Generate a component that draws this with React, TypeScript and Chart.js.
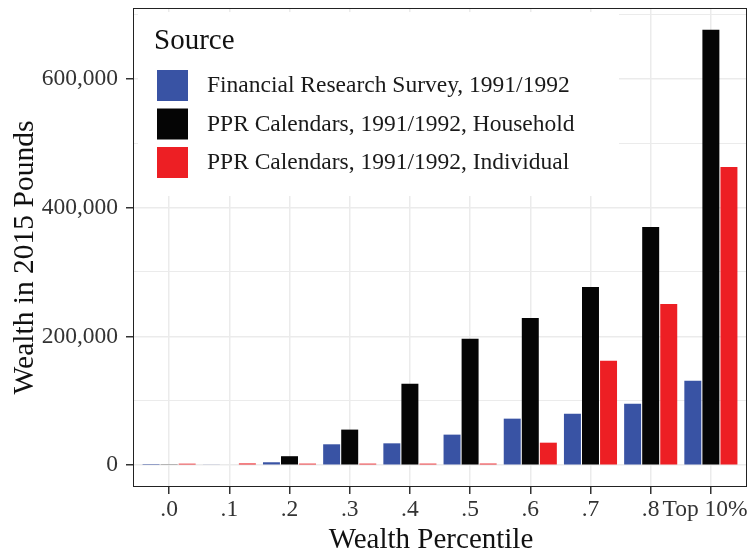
import React, { useEffect, useRef } from 'react';
import { Chart, registerables } from 'chart.js';

Chart.register(...registerables);

const categories = ['.0', '.1', '.2', '.3', '.4', '.5', '.6', '.7', '.8', 'Top 10%'];
const frsValues = [400, 1000, 4600, 32500, 34000, 47500, 72300, 80000, 95500, 131000];
const householdValues = [800, 0, 14000, 55300, 126500, 196200, 228700, 276700, 369700, 676000];
const individualValues = [2400, 2800, 2500, 2500, 2500, 2600, 35000, 162000, 250400, 463000];
const yTickValues = [0, 100000, 200000, 300000, 400000, 500000, 600000, 700000];
const yLabelValues = [0, 200000, 400000, 600000];
const seriesNames = [
  'Financial Research Survey, 1991/1992',
  'PPR Calendars, 1991/1992, Household',
  'PPR Calendars, 1991/1992, Individual',
];
const seriesColors = ['#3953a4', '#050505', '#ed1f24'];
const legendTitle = 'Source';
const xTitle = 'Wealth Percentile';
const yTitle = 'Wealth in 2015 Pounds';

const FONT = "'Liberation Serif', 'Times New Roman', serif";

const decorations = {
  id: 'decorations',
  afterDatasetsDraw(chart: any) {
    const { ctx, chartArea } = chart;
    const l = chartArea.left;
    const t = chartArea.top;
    ctx.save();
    ctx.fillStyle = '#ffffff';
    ctx.fillRect(l + 5, t + 4, 481, 184);
    ctx.fillStyle = '#111';
    ctx.font = `29px ${FONT}`;
    ctx.textBaseline = 'alphabetic';
    ctx.textAlign = 'left';
    ctx.fillText(legendTitle, l + 21, t + 41);
    chart.data.datasets.forEach((ds: any, i: number) => {
      const by = t + 62 + i * 38.5;
      ctx.fillStyle = ds.backgroundColor;
      ctx.fillRect(l + 24, by, 31, 31);
      ctx.fillStyle = '#1a1a1a';
      ctx.font = `23.5px ${FONT}`;
      ctx.textBaseline = 'middle';
      ctx.fillText(ds.label, l + 74, by + 16);
    });
    ctx.restore();
  },
  afterDraw(chart: any) {
    const { ctx, chartArea } = chart;
    ctx.save();
    ctx.strokeStyle = '#222';
    ctx.lineWidth = 1;
    ctx.strokeRect(chartArea.left + 0.5, chartArea.top + 0.5, chartArea.right - chartArea.left - 1, chartArea.bottom - chartArea.top - 1);
    // axis titles
    ctx.fillStyle = '#111';
    ctx.font = `29px ${FONT}`;
    ctx.textAlign = 'center';
    ctx.textBaseline = 'alphabetic';
    const cx = (chartArea.left + chartArea.right) / 2 - 9;
    ctx.fillText(xTitle, cx, chart.height - 7);
    ctx.translate(33, (chartArea.top + chartArea.bottom) / 2 + 10);
    ctx.rotate(-Math.PI / 2);
    ctx.font = `29.5px ${FONT}`;
    ctx.fillText(yTitle, 0, 0);
    ctx.restore();
  },
};

export default function App() {
  const ref = useRef<HTMLCanvasElement | null>(null);

  useEffect(() => {
    if (!ref.current) return;
    const mk = (vals: number[]) => vals.map((v, i) => ({ x: i, y: v }));
    const seriesData = [frsValues, householdValues, individualValues];
    const ymax = Math.max(...householdValues, ...frsValues, ...individualValues);
    const chart = new Chart(ref.current, {
      type: 'bar',
      data: {
        datasets: seriesData.map((vals, i) => ({
          label: seriesNames[i],
          data: mk(vals),
          backgroundColor: seriesColors[i],
          borderWidth: 0,
          categoryPercentage: 0.9,
          barPercentage: 0.94,
        })),
      },
      options: {
        responsive: false,
        animation: false,
        devicePixelRatio: 1,
        layout: { padding: { left: 0, right: 7, top: 8, bottom: 0 } },
        plugins: { legend: { display: false }, tooltip: { enabled: false } },
        scales: {
          x: {
            type: 'linear',
            offset: false,
            min: -0.6,
            max: categories.length - 1 + 0.6,
            afterBuildTicks: (scale: any) => {
              scale.ticks = categories.map((_, i) => ({ value: i }));
            },
            afterFit: (scale: any) => {
              scale.height = 68;
              scale.paddingLeft = 0;
              scale.paddingRight = 0;
            },
            ticks: {
              autoSkip: false,
              maxRotation: 0,
              padding: 2,
              color: '#333',
              font: { family: FONT, size: 23.5 },
              callback: (v: any) => {
                const i = Math.round(Number(v));
                return categories[i] + (i === categories.length - 1 ? '\u2002' : '');
              },
            },
            grid: { offset: false, color: '#ebebeb', lineWidth: 1.5, tickLength: 7, tickColor: '#333' },
            border: { display: false },
            title: { display: false },
          },
          y: {
            type: 'linear',
            min: -ymax * 0.05,
            max: ymax * 1.05,
            afterBuildTicks: (scale: any) => {
              scale.ticks = yTickValues.map((v) => ({ value: v }));
            },
            afterFit: (scale: any) => {
              scale.width = 133;
              scale.paddingTop = 0;
              scale.paddingBottom = 0;
            },
            ticks: {
              padding: 8,
              color: '#333',
              font: { family: FONT, size: 23.5 },
              callback: (v: any) => (yLabelValues.includes(Number(v)) ? Number(v).toLocaleString('en-US') : ''),
            },
            grid: {
              color: '#ebebeb',
              lineWidth: (c: any) => (c.tick && yLabelValues.includes(c.tick.value) ? 1.5 : 1),
              tickLength: 7,
              tickColor: (c: any) => (c.tick && yLabelValues.includes(c.tick.value) ? '#333' : 'rgba(0,0,0,0)'),
            },
            border: { display: false },
            title: { display: false },
          },
        },
      },
      plugins: [decorations],
    } as any);
    return () => chart.destroy();
  }, []);

  return (
    <div style={{ position: 'absolute', left: 0, top: 0, width: 754, height: 555, background: '#fff' }}>
      <canvas ref={ref} width={754} height={555} style={{ display: 'block', width: 754, height: 555 }} />
    </div>
  );
}
